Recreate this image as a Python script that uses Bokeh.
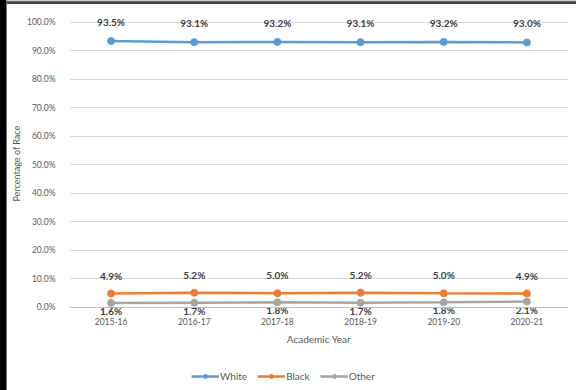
from bokeh.plotting import figure
from bokeh.layouts import column, row
from bokeh.models import (ColumnDataSource, FactorRange, Range1d, NumeralTickFormatter,
                          Legend, LegendItem, SingleIntervalTicker, Span, Div)
from bokeh.core.properties import value
from bokeh.embed import file_html
from bokeh.resources import INLINE

years = ["2015-16", "2016-17", "2017-18", "2018-19", "2019-20", "2020-21"]
white = [93.5, 93.1, 93.2, 93.1, 93.2, 93.0]
black = [4.9, 5.2, 5.0, 5.2, 5.0, 4.9]
other = [1.6, 1.7, 1.8, 1.7, 1.8, 2.1]

FONT = "Lato"
TXT = "#595959"

p = figure(width=569, height=356, x_range=FactorRange(*years), y_range=Range1d(-0.0316, 1.0421),
           output_backend="svg", toolbar_location=None,
           min_border_left=60, min_border_right=8, min_border_top=6, min_border_bottom=44)
p.outline_line_color = None
p.background_fill_color = "white"
p.border_fill_color = "white"

p.yaxis.ticker = SingleIntervalTicker(interval=0.1)
p.yaxis.formatter = NumeralTickFormatter(format="0.0%")
p.yaxis.axis_line_color = None
p.yaxis.major_tick_line_color = None
p.yaxis.minor_tick_line_color = None
p.yaxis.major_tick_out = 0
p.yaxis.major_label_standoff = 10
p.yaxis.major_label_text_font = FONT
p.yaxis.major_label_text_font_size = "8.5px"
p.yaxis.major_label_text_color = TXT
p.yaxis.axis_label = "Percentage of Race"
p.yaxis.axis_label_text_font = FONT
p.yaxis.axis_label_text_font_size = "9px"
p.yaxis.axis_label_text_font_style = "normal"
p.yaxis.axis_label_text_color = TXT
p.yaxis.axis_label_standoff = 2

p.xaxis.axis_line_color = None
p.xaxis.major_tick_line_color = None
p.xaxis.minor_tick_line_color = None
p.xaxis.major_tick_out = 0
p.xaxis.major_tick_in = 0
p.xaxis.major_label_standoff = 1
p.xaxis.major_label_text_font = FONT
p.xaxis.major_label_text_font_size = "8.5px"
p.xaxis.major_label_text_color = TXT
p.xaxis.axis_label = "Academic Year"
p.xaxis.axis_label_text_font = FONT
p.xaxis.axis_label_text_font_size = "10px"
p.xaxis.axis_label_text_font_style = "normal"
p.xaxis.axis_label_text_color = TXT
p.xaxis.axis_label_standoff = 5

p.xgrid.grid_line_color = None
p.ygrid.grid_line_color = "#D9D9D9"
p.ygrid.grid_line_width = 1
p.add_layout(Span(location=0, dimension="width", line_color="#BFBFBF", line_width=1))

series = [("White", white, "#5B9BD5", -13, "bottom"),
          ("Black", black, "#ED7D31", -12, "bottom"),
          ("Other", other, "#A5A5A5", 2, "top")]
for name, vals, color, yoff, base in series:
    src = ColumnDataSource(dict(x=years, y=[v / 100 for v in vals],
                                lab=[f"{v:.1f}%" for v in vals]))
    p.line("x", "y", source=src, line_color=color, line_width=2.5)
    p.scatter("x", "y", source=src, size=7, fill_color=color, line_color=color)
    p.text("x", "y", text="lab", source=src, y_offset=yoff, text_align="center",
           text_baseline=base, text_font=value(FONT), text_font_size="10px",
           text_font_style="bold", text_color="#404040")

# legend strip (dummy renderers placed outside the visible range)
lf = figure(width=569, height=30, x_range=Range1d(0, 1), y_range=Range1d(0, 1),
            output_backend="svg", toolbar_location=None,
            x_axis_location=None, y_axis_location=None,
            min_border_left=0, min_border_right=0, min_border_top=0, min_border_bottom=0)
lf.grid.visible = False
lf.outline_line_color = None
items = []
for name, vals, color, yoff, base in series:
    src = ColumnDataSource(dict(x=[-5, -4], y=[-5, -5]))
    l = lf.line("x", "y", source=src, line_color=color, line_width=2.5)
    s = lf.scatter("x", "y", source=src, size=6, fill_color=color, line_color=color)
    items.append(LegendItem(label=name, renderers=[l, s]))
legend = Legend(items=items, orientation="horizontal", location=(122, 8),
                label_text_font=FONT, label_text_font_size="10px", label_text_color=TXT,
                glyph_width=28, glyph_height=10, spacing=10, label_standoff=1,
                padding=2, margin=0, border_line_color=None, background_fill_alpha=0)
lf.add_layout(legend, "center")

# screenshot frame edges seen in the reference
left_edge = Div(text="", width=7, height=390, margin=0,
                styles={"background": "linear-gradient(to right, #000 0%, #000 80%, #bbb 100%)"})
top_edge = Div(text="", width=569, height=4, margin=0,
               styles={"background": "linear-gradient(to bottom, #ccc 0%, #ccc 30%, #444 40%, #444 100%)"})

layout = row(left_edge, column(top_edge, p, lf, spacing=0), spacing=0)
open("out.html", "w").write(file_html(layout, INLINE))
